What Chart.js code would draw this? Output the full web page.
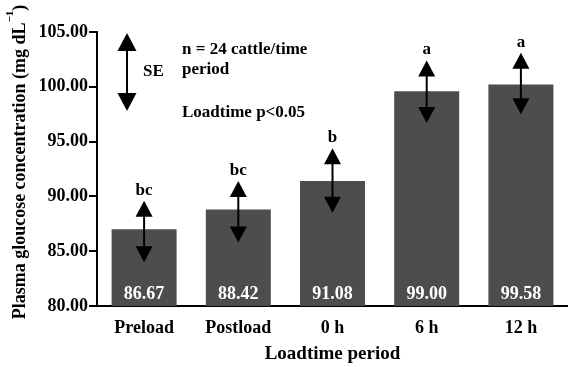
<!DOCTYPE html>
<html>
<head>
<meta charset="utf-8">
<script src="https://cdn.jsdelivr.net/npm/chart.js@4.4.0/dist/chart.umd.min.js"></script>
<style>
  html, body { margin: 0; padding: 0; background: #fff; }
  canvas { display: block; }
</style>
</head>
<body>
<canvas id="bars" width="568" height="367"></canvas>
<script>
// data
const categories = ['Preload', 'Postload', '0 h', '6 h', '12 h'];
const barValues = [87.0, 88.8, 91.4, 99.6, 100.2];
const valueLabels = ['86.67', '88.42', '91.08', '99.00', '99.58'];
const seUpper = [89.6, 91.4, 94.4, 102.4, 103.1];
const seLower = [84.0, 85.8, 88.5, 96.7, 97.5];
const letters = ['bc', 'bc', 'b', 'a', 'a'];

const serif = '"Liberation Serif", "Times New Roman", serif';

function arrow(ctx, x, y1, y2, headW, headH) {
  ctx.beginPath();
  ctx.moveTo(x, y1 + headH - 1);
  ctx.lineTo(x, y2 - headH + 1);
  ctx.stroke();
  ctx.beginPath();
  ctx.moveTo(x, y1);
  ctx.lineTo(x - headW / 2, y1 + headH);
  ctx.lineTo(x + headW / 2, y1 + headH);
  ctx.closePath();
  ctx.fill();
  ctx.beginPath();
  ctx.moveTo(x, y2);
  ctx.lineTo(x - headW / 2, y2 - headH);
  ctx.lineTo(x + headW / 2, y2 - headH);
  ctx.closePath();
  ctx.fill();
}

const annot = {
  id: 'annot',
  afterDatasetsDraw(chart) {
    const ctx = chart.ctx;
    const xs = chart.scales.x, ys = chart.scales.y;
    const area = chart.chartArea;
    ctx.save();
    ctx.fillStyle = '#000';
    ctx.strokeStyle = '#000';
    ctx.lineWidth = 2;

    // values inside the bars
    ctx.fillStyle = '#fff';
    ctx.font = 'bold 18px ' + serif;
    ctx.textAlign = 'center';
    ctx.textBaseline = 'alphabetic';
    valueLabels.forEach((t, i) => {
      ctx.fillText(t, xs.getPixelForValue(i), area.bottom - 7);
    });

    // SE arrows and letters
    ctx.fillStyle = '#000';
    seUpper.forEach((u, i) => {
      const x = xs.getPixelForValue(i);
      const yt = ys.getPixelForValue(u);
      const yb = ys.getPixelForValue(seLower[i]);
      arrow(ctx, x, yt, yb, 17, 16);
      ctx.font = 'bold 17px ' + serif;
      ctx.fillText(letters[i], x, yt - 6);
    });

    // SE key
    arrow(ctx, area.left + 30, 33, 111, 19, 18);
    ctx.textAlign = 'left';
    ctx.textBaseline = 'middle';
    ctx.font = 'bold 17px ' + serif;
    ctx.fillText('SE', area.left + 46, 72);
    ctx.fillText('n = 24 cattle/time', area.left + 85, 50);
    ctx.fillText('period', area.left + 85, 70);
    ctx.fillText('Loadtime p<0.05', area.left + 85, 113);

    // y axis title with superscript
    ctx.translate(19, 162);
    ctx.rotate(-Math.PI / 2);
    const main = 'Plasma gloucose concentration (mg dL';
    const sup = '\u22121';
    ctx.font = 'bold 18px ' + serif;
    const wMain = ctx.measureText(main).width;
    const wClose = ctx.measureText(')').width;
    ctx.font = 'bold 11px ' + serif;
    const wSup = ctx.measureText(sup).width;
    let x0 = -(wMain + wSup + wClose) / 2;
    ctx.textBaseline = 'alphabetic';
    ctx.font = 'bold 18px ' + serif;
    ctx.fillText(main, x0, 6);
    ctx.font = 'bold 11px ' + serif;
    ctx.fillText(sup, x0 + wMain, -6);
    ctx.font = 'bold 18px ' + serif;
    ctx.fillText(')', x0 + wMain + wSup, 6);
    ctx.restore();
  }
};

new Chart(document.getElementById('bars'), {
  type: 'bar',
  data: {
    labels: categories,
    datasets: [{
      data: barValues,
      backgroundColor: '#4d4d4d',
      borderWidth: 0,
      barPercentage: 0.69,
      categoryPercentage: 1
    }]
  },
  options: {
    responsive: false,
    animation: false,
    layout: { padding: { top: 32, right: 0, bottom: 0, left: 0 } },
    plugins: { legend: { display: false }, tooltip: { enabled: false } },
    scales: {
      x: {
        grid: { display: false, drawTicks: false },
        border: { color: '#000', width: 2 },
        ticks: { color: '#000', font: { family: serif, size: 18, weight: 'bold' }, padding: 12 },
        title: { display: true, text: 'Loadtime period', color: '#000',
                 font: { family: serif, size: 19, weight: 'bold' }, padding: { top: 0, bottom: 2 } },
        afterFit(s) { s.height = 61; }
      },
      y: {
        min: 80, max: 105,
        ticks: { stepSize: 5, color: '#000', font: { family: serif, size: 18, weight: 'bold' }, padding: 1,
                 callback: v => v.toFixed(2) },
        grid: { drawOnChartArea: false, color: '#000', lineWidth: 2, tickLength: 8 },
        border: { color: '#000', width: 2 },
        afterFit(s) { s.width = 97; }
      }
    }
  },
  plugins: [annot]
});
</script>
</body>
</html>
